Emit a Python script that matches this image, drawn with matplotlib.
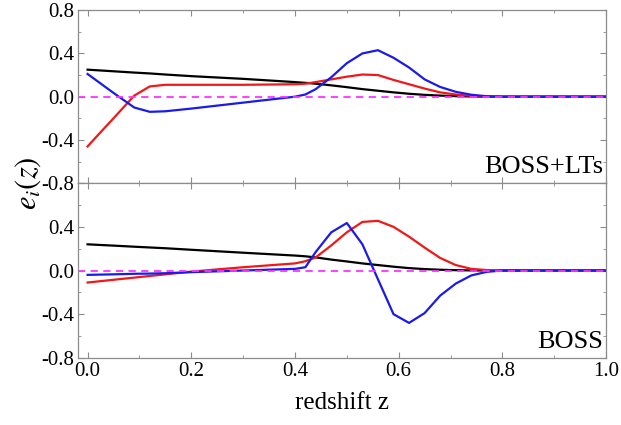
import matplotlib
matplotlib.use('Agg')
import matplotlib.pyplot as plt
from matplotlib.ticker import MultipleLocator

plt.rcParams['font.family'] = ['Liberation Serif', 'DejaVu Serif']
plt.rcParams['mathtext.fontset'] = 'stix'
plt.rcParams['axes.unicode_minus'] = False

# redshift grid shared by all curves
z = [0, 0.02, 0.05, 0.09, 0.12, 0.15, 0.2, 0.3, 0.4, 0.42, 0.44, 0.47, 0.50,
     0.53, 0.56, 0.59, 0.62, 0.65, 0.68, 0.71, 0.74, 0.77, 0.80, 1.0]

# BOSS+LTs (top panel)
black_lts = [0.25, 0.244, 0.235, 0.223, 0.215, 0.205, 0.19, 0.165, 0.135, 0.128, 0.12, 0.105, 0.088,
             0.07, 0.055, 0.04, 0.027, 0.017, 0.01, 0.005, 0.002, 0, 0, 0]
red_lts = [-0.46, -0.355, -0.20, 0.01, 0.095, 0.11, 0.11, 0.11, 0.115, 0.12, 0.135, 0.16, 0.185,
           0.205, 0.20, 0.155, 0.115, 0.075, 0.04, 0.02, 0.008, 0.002, 0, 0]
blue_lts = [0.21, 0.14, 0.035, -0.10, -0.14, -0.135, -0.11, -0.055, 0.0, 0.02, 0.07, 0.18, 0.31,
            0.40, 0.43, 0.36, 0.27, 0.16, 0.09, 0.045, 0.018, 0.004, 0, 0]

# BOSS (bottom panel)
black_boss = [0.24, 0.235, 0.228, 0.218, 0.211, 0.204, 0.19, 0.163, 0.137, 0.13, 0.12, 0.10, 0.083,
              0.065, 0.05, 0.035, 0.022, 0.013, 0.007, 0.003, 0.001, 0, 0, 0]
red_boss = [-0.11, -0.10, -0.085, -0.065, -0.05, -0.035, -0.01, 0.03, 0.065, 0.085, 0.12, 0.23, 0.35,
            0.445, 0.455, 0.40, 0.31, 0.21, 0.115, 0.05, 0.015, 0.004, 0, 0]
blue_boss = [-0.04, -0.038, -0.035, -0.03, -0.028, -0.025, -0.015, 0.0, 0.015, 0.03, 0.17, 0.35, 0.435,
             0.24, -0.08, -0.40, -0.48, -0.39, -0.23, -0.12, -0.045, -0.012, 0, 0]

panels = [('BOSS+LTs', black_lts, red_lts, blue_lts),
          ('BOSS', black_boss, red_boss, blue_boss)]

fig = plt.figure(figsize=(6.21, 4.25), dpi=100)
ax_top = fig.add_axes([0.126, 0.569, 0.850, 0.407])
ax_bot = fig.add_axes([0.126, 0.158, 0.850, 0.411], sharex=ax_top)

grey = '#8c8c8c'
for ax, (name, blk, red, blu) in zip([ax_top, ax_bot], panels):
    ax.plot(z, blk, color='black', lw=1.6)
    ax.plot(z, red, color='#f01818', lw=1.6)
    ax.plot(z, blu, color='#1a1aee', lw=1.6)
    ax.axhline(0, color='#ff33ff', lw=1.3, ls=(0, (4, 3)))
    ax.set_xlim(-0.018, 1.0)
    ax.set_ylim(-0.8, 0.8)
    ax.xaxis.set_major_locator(MultipleLocator(0.2))
    ax.xaxis.set_minor_locator(MultipleLocator(0.1))
    ax.yaxis.set_major_locator(MultipleLocator(0.4))
    ax.yaxis.set_minor_locator(MultipleLocator(0.2))
    ax.tick_params(which='both', direction='in', top=True, right=True,
                   color=grey, labelsize=15, pad=3)
    ax.tick_params(which='major', length=4)
    ax.tick_params(which='minor', length=2)
    for sp in ax.spines.values():
        sp.set_color(grey)
        sp.set_linewidth(0.9)
    ax.text(0.995, 0.03, name, transform=ax.transAxes, ha='right', va='bottom',
            fontsize=19)

ax_top.tick_params(labelbottom=False)
ax_top.set_yticks([-0.8, -0.4, 0.0, 0.4, 0.8])
ax_top.set_yticklabels(['-0.8', '-0.4', '0.0', '0.4', '0.8'])
ax_bot.set_yticks([-0.8, -0.4, 0.0, 0.4, 0.8])
ax_bot.set_yticklabels(['-0.8', '-0.4', '0.0', '0.4', ''])
ax_bot.set_xticks([0.0, 0.2, 0.4, 0.6, 0.8, 1.0])
ax_bot.set_xticklabels(['0.0', '0.2', '0.4', '0.6', '0.8', '1.0'])

ax_bot.set_xlabel('redshift z', fontsize=18, labelpad=8)
fig.text(0.045, 0.569, r'$e_i(z)$', rotation=90, fontsize=22, ha='center', va='center')

fig.savefig('out.png', dpi=100)
